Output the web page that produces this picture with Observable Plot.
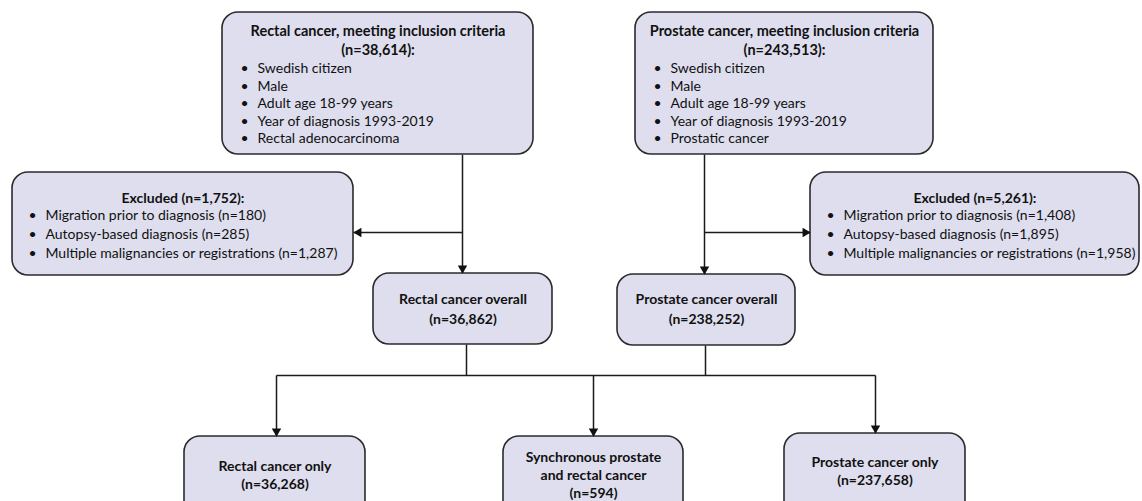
<!DOCTYPE html>
<html>
<head>
<meta charset="utf-8">
<script src="https://cdn.jsdelivr.net/npm/d3@7"></script>
<script src="https://cdn.jsdelivr.net/npm/@observablehq/plot@0.6"></script>
<style>
  html, body { margin: 0; padding: 0; background: #fff; overflow: hidden; }
  #chart svg { overflow: hidden; display: block; }
</style>
</head>
<body>
<div id="chart"></div>
<script>
// ---------------- DATA ----------------
const cohorts = ["Rectal cancer", "Prostate cancer"];
const eligibleN = [38614, 243513];
const commonCriteria = ["Swedish citizen", "Male", "Adult age 18-99 years", "Year of diagnosis 1993-2019"];
const histology = ["Rectal adenocarcinoma", "Prostatic cancer"];
const excludedN = [1752, 5261];
const exclusionReasons = ["Migration prior to diagnosis", "Autopsy-based diagnosis", "Multiple malignancies or registrations"];
const rectalExclusions = [180, 285, 1287];
const prostateExclusions = [1408, 1895, 1958];
const overallN = [36862, 238252];
const outcomeLabels = [["Rectal cancer only"], ["Synchronous prostate", "and rectal cancer"], ["Prostate cancer only"]];
const outcomeN = [36268, 594, 237658];

// ---------------- LAYOUT ----------------
const W = 1142, H = 501;
const fmt = d3.format(",");
const boxLayout = [
  {id: "top0", x1: 222, x2: 533, y1: 12, y2: 154},
  {id: "top1", x1: 635, x2: 933, y1: 12, y2: 154},
  {id: "exc0", x1: 12, x2: 353, y1: 172, y2: 275},
  {id: "exc1", x1: 810, x2: 1139, y1: 172, y2: 275},
  {id: "all0", x1: 373, x2: 552, y1: 273, y2: 344},
  {id: "all1", x1: 617, x2: 795, y1: 274, y2: 345},
  {id: "out0", x1: 184, x2: 365, y1: 436, y2: 540},
  {id: "out1", x1: 503, x2: 683, y1: 436, y2: 540},
  {id: "out2", x1: 784, x2: 965, y1: 433, y2: 540}
];
const B = Object.fromEntries(boxLayout.map(b => [b.id, b]));
const cx = b => (b.x1 + b.x2) / 2;

// text rows
const texts = [];
const add = (text, x, y, kind) => texts.push({text, x, y, kind});

// top boxes
cohorts.forEach((c, i) => {
  const b = B["top" + i];
  add(`${c}, meeting inclusion criteria`, cx(b), 31, "title");
  add(`(n=${fmt(eligibleN[i])}):`, cx(b), 50, "title");
  [...commonCriteria, histology[i]].forEach((t, j) => {
    const y = 68 + j * 17.6;
    add("•", b.x1 + 18, y, "body");
    add(t, b.x1 + 35, y, "body");
  });
});

// excluded boxes
[rectalExclusions, prostateExclusions].forEach((vals, i) => {
  const b = B["exc" + i];
  add(`Excluded (n=${fmt(excludedN[i])}):`, cx(b), 198, "bold");
  exclusionReasons.forEach((r, j) => {
    const y = 215 + j * 18.8;
    add("•", b.x1 + 16, y, "body");
    add(`${r} (n=${fmt(vals[j])})`, b.x1 + 33, y, "body");
  });
});

// overall boxes
cohorts.forEach((c, i) => {
  const b = B["all" + i];
  add(`${c} overall`, cx(b), 299.5, "bold");
  add(`(n=${fmt(overallN[i])})`, cx(b), 319, "bold");
});

// outcome boxes
const outcomeFirstLine = [466, 457, 462];
outcomeLabels.forEach((lines, i) => {
  const b = B["out" + i];
  [...lines, `(n=${fmt(outcomeN[i])})`].forEach((t, j) => add(t, cx(b), outcomeFirstLine[i] + j * 18, "bold"));
});

// connectors
const links = [
  {x1: 462, y1: 154, x2: 462, y2: B.all0.y1},
  {x1: 462, y1: 232, x2: B.exc0.x2, y2: 232},
  {x1: 704, y1: 154, x2: 704, y2: B.all1.y1},
  {x1: 704, y1: 232, x2: B.exc1.x1, y2: 232},
  {x1: 466, y1: B.all0.y2, x2: 466, y2: 375},
  {x1: 705, y1: B.all1.y2, x2: 705, y2: 375},
  {x1: 276, y1: 375, x2: 875, y2: 375},
  {x1: 276, y1: 375, x2: 276, y2: B.out0.y1},
  {x1: 593, y1: 375, x2: 593, y2: B.out1.y1},
  {x1: 875, y1: 375, x2: 875, y2: B.out2.y1}
];
const arrowLinks = [0, 1, 2, 3, 7, 8, 9];
const headOffset = 5.2;
const heads = arrowLinks.map(k => {
  const l = links[k];
  const dx = Math.sign(l.x2 - l.x1), dy = Math.sign(l.y2 - l.y1);
  const rot = dy > 0 ? 180 : dx > 0 ? 90 : dx < 0 ? -90 : 0;
  return {x: l.x2 - dx * headOffset, y: l.y2 - dy * headOffset, rot};
});

const font = "Lato, 'Open Sans', sans-serif";

const chart = Plot.plot({
  width: W, height: H,
  margin: 0,
  x: {domain: [0, W], range: [0, W], axis: null},
  y: {domain: [0, H], range: [0, H], axis: null},
  style: {fontFamily: font, background: "#fff", overflow: "hidden"},
  marks: [
    Plot.link(links, {x1: "x1", y1: "y1", x2: "x2", y2: "y2", stroke: "#1a1a1a", strokeWidth: 1.5}),
    Plot.rect(boxLayout, {x1: "x1", x2: "x2", y1: "y1", y2: "y2", rx: 16, fill: "#dedeee", stroke: "#2b2b2b", strokeWidth: 1.6}),
    Plot.dot(heads, {x: "x", y: "y", symbol: "triangle", r: 3.5, rotate: "rot", fill: "#111", stroke: "none"}),
    Plot.text(texts.filter(d => d.kind === "title"), {x: "x", y: "y", text: "text", textAnchor: "middle", fontWeight: "bold", fontSize: 14.5, fill: "#111"}),
    Plot.text(texts.filter(d => d.kind === "bold"), {x: "x", y: "y", text: "text", textAnchor: "middle", fontWeight: "bold", fontSize: 14, fill: "#111"}),
    Plot.text(texts.filter(d => d.kind === "body"), {x: "x", y: "y", text: "text", textAnchor: "start", fontSize: 14, fill: "#111"})
  ]
});
document.getElementById("chart").appendChild(chart);
</script>
</body>
</html>
